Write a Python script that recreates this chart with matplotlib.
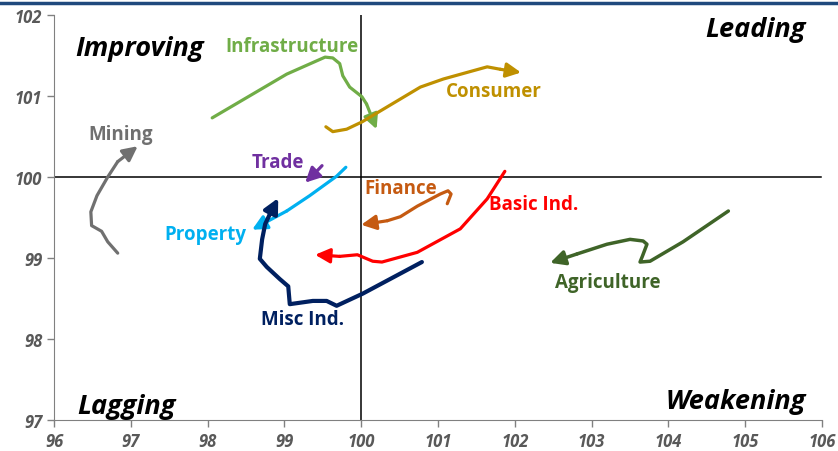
import matplotlib.pyplot as plt
from matplotlib.lines import Line2D

# relative rotation graph - sector trails (x = RS ratio, y = RS momentum)
infra_x = [98.06, 99.03, 99.53, 99.63, 99.72, 99.76, 99.85, 100.01, 100.07, 100.20]
infra_y = [100.73, 101.27, 101.48, 101.47, 101.40, 101.25, 101.11, 100.99, 100.90, 100.59]

cons_x = [99.54, 99.63, 99.81, 100.01, 100.77, 101.07, 101.64, 101.81, 102.08]
cons_y = [100.62, 100.56, 100.59, 100.68, 101.11, 101.21, 101.36, 101.33, 101.29]

mining_x = [96.83, 96.70, 96.62, 96.49, 96.48, 96.56, 96.70, 96.83, 97.09]
mining_y = [99.06, 99.20, 99.33, 99.40, 99.57, 99.77, 100.00, 100.19, 100.38]

trade_x = [99.49, 99.40, 99.27]
trade_y = [100.14, 100.05, 99.93]

prop_x = [99.80, 99.68, 99.33, 99.03, 98.58]
prop_y = [100.12, 100.01, 99.77, 99.58, 99.35]

misc_x = [100.79, 100.02, 99.68, 99.55, 99.37, 99.07, 99.05, 98.94, 98.77, 98.68, 98.71, 98.75, 98.81, 98.92]
misc_y = [98.95, 98.56, 98.41, 98.47, 98.47, 98.43, 98.65, 98.74, 98.89, 98.99, 99.23, 99.42, 99.54, 99.74]

basic_x = [101.87, 101.64, 101.29, 100.73, 100.27, 100.15, 99.95, 99.72, 99.40]
basic_y = [100.07, 99.73, 99.36, 99.07, 98.95, 98.96, 99.04, 99.02, 99.04]

fin_x = [101.12, 101.17, 101.13, 101.03, 100.73, 100.51, 100.34, 100.00]
fin_y = [99.67, 99.79, 99.83, 99.79, 99.64, 99.51, 99.46, 99.41]

agri_x = [104.78, 104.19, 103.76, 103.63, 103.66, 103.72, 103.67, 103.50, 103.20, 102.81, 102.46]
agri_y = [99.58, 99.20, 98.96, 98.95, 99.02, 99.17, 99.21, 99.23, 99.17, 99.05, 98.94]

series = [
    ("Infrastructure", infra_x, infra_y, "#70AD47", 2.3, (99.10, 101.62)),
    ("Consumer", cons_x, cons_y, "#BF9000", 2.3, (101.73, 101.06)),
    ("Mining", mining_x, mining_y, "#707070", 2.3, (96.87, 100.53)),
    ("Trade", trade_x, trade_y, "#7030A0", 2.3, (98.92, 100.19)),
    ("Property", prop_x, prop_y, "#00B0F0", 2.3, (97.97, 99.30)),
    ("Misc Ind.", misc_x, misc_y, "#002060", 3.0, (99.23, 98.25)),
    ("Basic Ind.", basic_x, basic_y, "#FF0000", 2.3, (102.24, 99.67)),
    ("Finance", fin_x, fin_y, "#C55A11", 2.3, (100.52, 99.86)),
    ("Agriculture", agri_x, agri_y, "#3F6428", 2.5, (103.21, 98.70)),
]

quadrants = [("Improving", 97.12, 101.59), ("Leading", 105.13, 101.83),
             ("Lagging", 96.95, 97.17), ("Weakening", 104.88, 97.23)]

plt.rcParams['font.family'] = ['Open Sans', 'DejaVu Sans']

fig = plt.figure(figsize=(8.38, 4.52), dpi=100)
ax = fig.add_axes([0.0644, 0.0686, 0.9166, 0.896])

ax.axvline(100, color='black', lw=1.1, zorder=1)
ax.plot([96, 105.98], [100, 100], color='black', lw=1.1, zorder=1)

for name, xs, ys, col, lw, (lx, ly) in series:
    ax.plot(xs[:-1], ys[:-1], color=col, lw=lw, solid_capstyle='round',
            solid_joinstyle='round', zorder=3)
    ax.annotate('', xy=(xs[-1], ys[-1]), xytext=(xs[-2], ys[-2]),
                arrowprops=dict(arrowstyle='-|>', color=col, lw=lw,
                                mutation_scale=22, shrinkA=0, shrinkB=0),
                zorder=3)
    ax.text(lx, ly, name, color=col, fontsize=13.5, fontweight='bold',
            ha='center', va='center', zorder=4)

for q, qx, qy in quadrants:
    ax.text(qx, qy, q, fontsize=19.5, fontweight='bold', fontstyle='italic',
            ha='center', va='center', color='black')

ax.set_xlim(96, 106)
ax.set_ylim(97, 102)
ax.set_xticks(range(96, 107))
ax.set_yticks(range(97, 103))
for lab in ax.get_xticklabels() + ax.get_yticklabels():
    lab.set_fontweight('bold')
    lab.set_fontstyle('italic')
    lab.set_color('#595959')
    lab.set_fontsize(12)
ax.tick_params(direction='out', length=5, color='#808080', width=1)
ax.spines['top'].set_visible(False)
ax.spines['right'].set_visible(False)
ax.spines['left'].set_color('#808080')
ax.spines['bottom'].set_color('#808080')

# blue rule at the top of the slide
fig.add_artist(Line2D([0, 1], [0.991, 0.991], color='#1F497D', lw=2.5))

fig.savefig('out.png', dpi=100)
